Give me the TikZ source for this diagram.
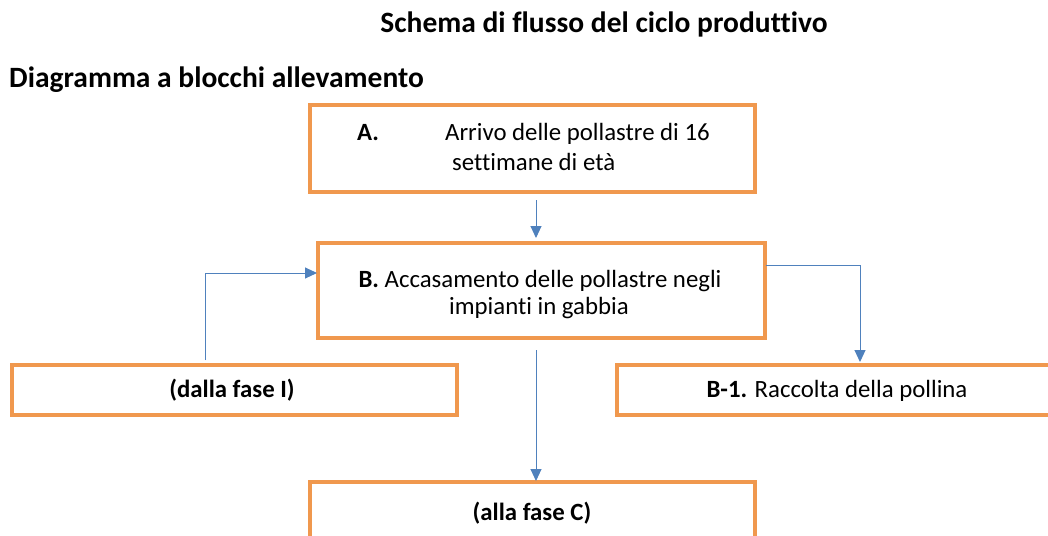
\documentclass[tikz,border=0pt]{standalone}
\usepackage{fontspec}
\setmainfont[Ligatures=NoCommon]{Carlito}
\usetikzlibrary{arrows.meta}
\definecolor{boxorange}{RGB}{240,152,78}
\definecolor{arrowblue}{RGB}{79,129,189}
\begin{document}
\begin{tikzpicture}[x=1pt,y=-1pt,
  box/.style={draw=boxorange, line width=4pt, inner sep=0pt, outer sep=0pt},
  flow/.style={draw=arrowblue, line width=1pt, -{Triangle[length=12pt,width=11pt]}},
  txt/.style={inner sep=0pt, anchor=base, font=\fontsize{24.8}{30}\selectfont},
  ttl/.style={inner sep=0pt, anchor=base, font=\fontsize{29.5}{35}\selectfont\bfseries}]
\useasboundingbox (0,0) rectangle (1048,535);
\fill[white] (0,0) rectangle (1048,535);
\clip (0,0) rectangle (1048,535);

\node[ttl] (title) at (604,33) {Schema di flusso del ciclo produttivo};
\node[ttl, anchor=base west] (sub) at (9,87) {Diagramma a blocchi allevamento};

\node[box, minimum width=445pt, minimum height=87pt] (A) at (532.5,148.5) {};
\node[box, minimum width=447pt, minimum height=95pt] (B) at (541.5,290.5) {};
\node[box, minimum width=445pt, minimum height=50pt] (D) at (234.5,390) {};
\node[box, minimum width=440pt, minimum height=50pt] (B1) at (837,390) {};
\node[box, minimum width=445pt, minimum height=63pt] (C) at (532.5,513.5) {};

\node[txt, anchor=base west] (Alab) at (357,140) {\bfseries A.};
\node[txt, anchor=base west] (Al1) at (445,140) {Arrivo delle pollastre di 16};
\node[txt, anchor=base west] (Al2) at (452,170) {settimane di età};
\node[txt] (Bl1) at (540,287) {{\bfseries B.} Accasamento delle pollastre negli};
\node[txt] (Bl2) at (539,314) {impianti in gabbia};
\node[txt] (Dl) at (232,397) {\bfseries (dalla fase I)};
\node[txt] (B1l) at (837,397) {{\bfseries B-1.} Raccolta della pollina};
\node[txt] (Cl) at (532,520) {\bfseries (alla fase C)};

\coordinate (ax) at (536,0);
\coordinate (dx) at (205,0);
\coordinate (bl) at (318,273);
\coordinate (br) at (766,265);
\coordinate (b1in) at (860,362);

\draw[flow, shorten <=8pt, shorten >=5pt] (A.south -| ax) -- (B.north -| ax);
\draw[flow, shorten <=5pt, shorten >=1pt] (D.north -| dx) |- (bl);
\draw[flow] (br) -| (b1in);
\draw[flow, shorten <=12pt, shorten >=1pt] (B.south -| ax) -- (C.north -| ax);
\end{tikzpicture}
\end{document}
